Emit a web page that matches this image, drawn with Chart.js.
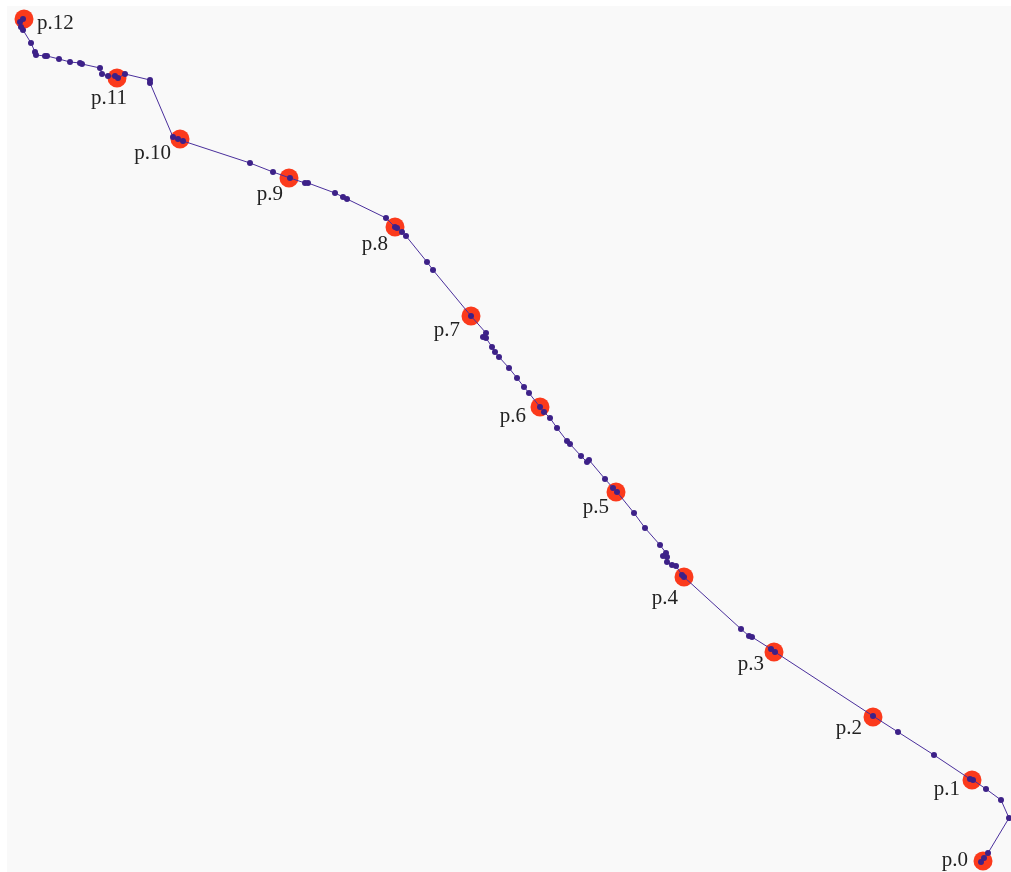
<!DOCTYPE html>
<html>
<head>
<meta charset="utf-8">
<script src="https://cdn.jsdelivr.net/npm/chart.js@4"></script>
<style>
  html, body { margin: 0; padding: 0; background: #ffffff; overflow: hidden; }
  canvas { display: block; }
</style>
</head>
<body>
<canvas id="c" width="1011" height="872" style="width:1011px;height:872px"></canvas>
<script>
// Waypoints (large red markers)
const wpLabels = ["p.0","p.1","p.2","p.3","p.4","p.5","p.6","p.7","p.8","p.9","p.10","p.11","p.12"];
const wpX = [983, 972, 873, 774, 684, 616, 540, 471, 395, 289, 180, 117, 24];
const wpY = [861, 780, 717, 652, 577, 492, 407, 316, 227, 178, 139, 78, 19];

// Track (small purple points joined by a line), from p.0 to p.12
const trackX = [981,984,988,1009,1001,986,973,970,934,898,873,775,771,752,749,741,684,682,676,672,667,667,663,666,660,645,634,617,613,605,589,587,581,570,567,557,550,544,540,529,524,517,509,499,495,492,486,483,486,471,433,427,406,402,397,395,386,347,343,335,308,305,290,273,250,183,178,173,150,150,125,118,115,108,102,100,82,80,70,59,47,45,36,35,31,23,21,20,23];
const trackY = [862,858,853,818,800,789,780,779,755,732,716,652,649,637,636,629,577,575,566,565,562,557,556,553,545,528,513,492,488,479,460,462,456,444,441,428,418,412,407,393,387,378,368,357,352,347,338,337,333,316,270,262,236,232,228,227,218,199,197,193,183,183,178,172,163,141,139,137,83,80,74,78,76,76,74,68,64,63,62,59,56,56,55,52,43,30,27,22,19];

// Label placement relative to each waypoint (layout only)
const labelDx = [-15,-12,-11,-10,-6,-7,-14,-11,-7,-6,-9,10,13];
const labelDy = [5,15,17,18,27,21,15,20,23,22,20,26,10];
const labelAlign = ["right","right","right","right","right","right","right","right","right","right","right","right","left"];

const bgPlugin = {
  id: 'bg',
  beforeDraw(chart) {
    const {ctx, chartArea: a} = chart;
    ctx.save();
    ctx.fillStyle = '#f9f9f9';
    ctx.fillRect(a.left, a.top, a.right - a.left, a.bottom - a.top);
    ctx.restore();
  }
};

const labelPlugin = {
  id: 'wpLabels',
  afterDatasetsDraw(chart) {
    const meta = chart.getDatasetMeta(1);
    const ctx = chart.ctx;
    ctx.save();
    ctx.font = '21px "Liberation Serif", serif';
    ctx.fillStyle = '#222222';
    ctx.textBaseline = 'alphabetic';
    meta.data.forEach((pt, i) => {
      ctx.textAlign = labelAlign[i];
      ctx.fillText(wpLabels[i], pt.x + labelDx[i], pt.y + labelDy[i]);
    });
    ctx.restore();
  }
};

new Chart(document.getElementById('c'), {
  type: 'scatter',
  data: {
    datasets: [
      {
        label: 'track',
        data: trackX.map((x, i) => ({x, y: trackY[i]})),
        showLine: true,
        borderColor: '#4a2f9c',
        borderWidth: 1,
        pointRadius: 3,
        pointBackgroundColor: '#3d2188',
        pointBorderWidth: 0,
        clip: false,
        order: 1
      },
      {
        label: 'waypoints',
        data: wpX.map((x, i) => ({x, y: wpY[i]})),
        pointRadius: 9.5,
        pointBackgroundColor: '#fb3a1c',
        pointBorderWidth: 0,
        clip: false,
        order: 2
      }
    ]
  },
  options: {
    responsive: false,
    maintainAspectRatio: false,
    animation: false,
    devicePixelRatio: 1,
    layout: { autoPadding: false, padding: { left: 7, top: 6, right: 0, bottom: 0 } },
    plugins: { legend: { display: false }, tooltip: { enabled: false } },
    scales: {
      x: { type: 'linear', min: 7, max: 1011, display: false },
      y: { type: 'linear', min: 6, max: 872, reverse: true, display: false }
    }
  },
  plugins: [bgPlugin, labelPlugin]
});
</script>
</body>
</html>
